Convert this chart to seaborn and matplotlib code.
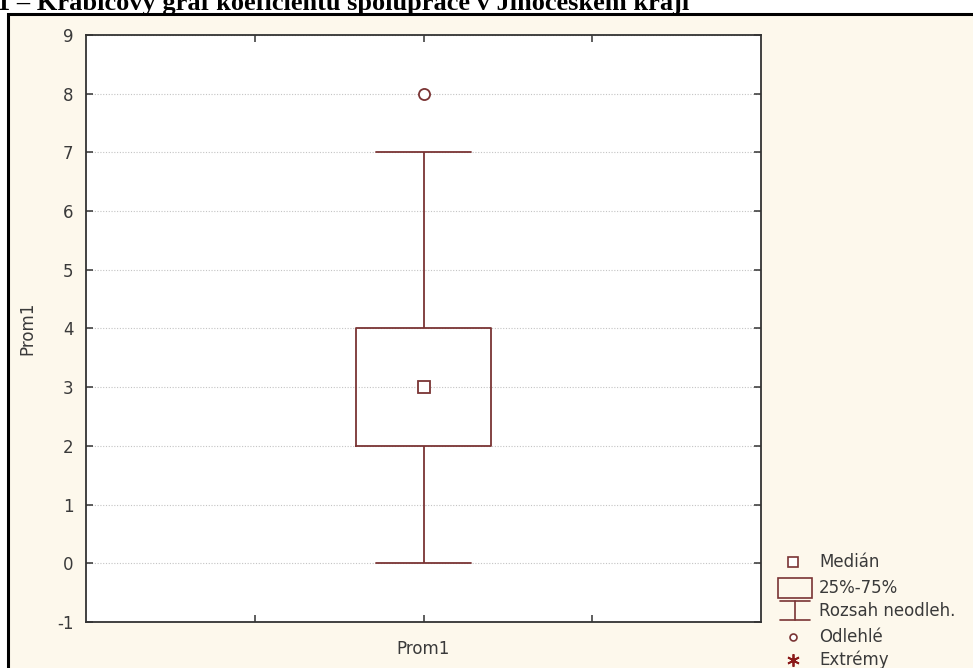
import pandas as pd
import matplotlib.pyplot as plt
import seaborn as sns
from matplotlib.lines import Line2D
from matplotlib.patches import Rectangle

# Sample of the cooperation coefficient (quartiles 2/3/4, whiskers 0-7, outlier 8)
VARIABLE = "Prom1"
koeficient = [0, 1, 2, 2, 2, 3, 3, 3, 3, 3, 4, 4, 4, 5, 6, 7, 8]
y_ticks = list(range(-1, 10))
legend_labels = ["Medián", "25%-75%", "Rozsah neodleh.", "Odlehlé", "Extrémy"]
TITLE = "1 – Krabicový graf koeficientu spolupráce v Jihočeském kraji"

BOX_COLOR = "#7a3434"
CREAM = "#fdf8ec"
TEXT_COLOR = "#3a3a3a"
FONT_SIZE = 12
W, H = 973, 668

sns.set_style("ticks")
plt.rcParams["font.family"] = ["DejaVu Sans"]
plt.rcParams["axes.unicode_minus"] = False

df = pd.DataFrame({"promenna": [VARIABLE] * len(koeficient), "hodnota": koeficient})


def fx(px):
    return px / W


def fy(py):
    return 1 - py / H


fig = plt.figure(figsize=(W / 100, H / 100), dpi=100, facecolor="white")

# cream panel with black frame (runs off the right and bottom edge)
fig.patches.append(Rectangle((fx(8), -0.2), 1.2, fy(14) + 0.2, transform=fig.transFigure,
                             facecolor=CREAM, edgecolor="black", linewidth=2.2, zorder=-5))
fig.text(fx(-3), fy(10), TITLE, family="Liberation Serif", fontweight="bold",
         fontsize=19, va="baseline", ha="left", color="black")

ax = fig.add_axes([fx(86), fy(622), fx(761) - fx(86), fy(35) - fy(622)])
ax.set_facecolor("white")

sns.boxplot(data=df, x="promenna", y="hodnota", ax=ax, fill=False, color=BOX_COLOR,
            width=0.2, whis=1.5, linewidth=1.3, capwidths=0.142,
            medianprops={"linewidth": 0},
            flierprops={"marker": "o", "markersize": 8, "markerfacecolor": "white",
                        "markeredgecolor": BOX_COLOR, "markeredgewidth": 1.3})
sns.pointplot(data=df, x="promenna", y="hodnota", ax=ax, estimator="median",
              errorbar=None, markers="s", linestyles="none", color=BOX_COLOR,
              markersize=9, markerfacecolor="white", markeredgewidth=1.3, zorder=5)

ax.set_xlim(-0.5, 0.5)
ax.set_ylim(-1, 9)
ax.set_yticks(y_ticks)
ax.set_xticks([0])
ax.set_xticklabels([VARIABLE])
ax.set_xticks([-0.25, 0.25], minor=True)
ax.yaxis.grid(True, linestyle=(0, (1, 1.5)), color="#c4c4c4", linewidth=0.8)
ax.set_axisbelow(True)
ax.tick_params(which="both", direction="in", top=True, right=True, length=5,
               width=1.1, color="#333333", labelsize=FONT_SIZE, labelcolor=TEXT_COLOR)
ax.tick_params(axis="y", pad=9)
ax.tick_params(axis="x", pad=13)
ax.set_xlabel("")
ax.set_ylabel(VARIABLE, fontsize=FONT_SIZE, color=TEXT_COLOR, labelpad=15)
for side in ax.spines.values():
    side.set_linewidth(1.3)
    side.set_color("#333333")

# legend, drawn in figure pixels
rows = [562, 588, 611, 637, 660]
mx = 793
fig.add_artist(Line2D([fx(mx)], [fy(rows[0])], marker="s", markersize=7, markerfacecolor="white",
                      markeredgecolor=BOX_COLOR, markeredgewidth=1.2, linestyle="none"))
fig.patches.append(Rectangle((fx(778), fy(598)), fx(812) - fx(778), fy(578) - fy(598),
                             transform=fig.transFigure, facecolor="none",
                             edgecolor=BOX_COLOR, linewidth=1.2))
for xs, ys in [([780, 810], [601, 601]), ([795, 795], [601, 620]), ([780, 810], [620, 620])]:
    fig.add_artist(Line2D([fx(v) for v in xs], [fy(v) for v in ys], color=BOX_COLOR, linewidth=1.2))
fig.add_artist(Line2D([fx(mx)], [fy(rows[3])], marker="o", markersize=5, markerfacecolor="white",
                      markeredgecolor=BOX_COLOR, markeredgewidth=1.2, linestyle="none"))
fig.add_artist(Line2D([fx(mx)], [fy(rows[4])], marker=(6, 2, 0), markersize=9,
                      markeredgecolor="#8b1a1a", markeredgewidth=1.3, linestyle="none"))
for label, ry in zip(legend_labels, rows):
    fig.text(fx(819), fy(ry), label, fontsize=FONT_SIZE, color=TEXT_COLOR, va="center", ha="left")

fig.savefig("out.png", dpi=100, facecolor="white")
